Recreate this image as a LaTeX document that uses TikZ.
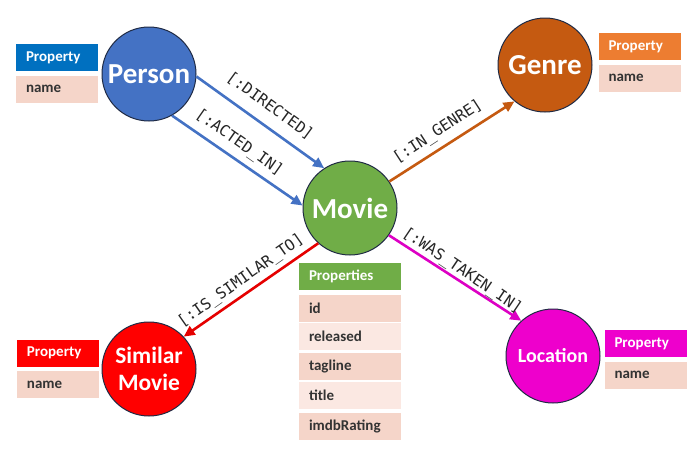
\documentclass[tikz,border=0pt]{standalone}
\usepackage{fontspec}
\setmainfont{Carlito}
\newfontfamily\relfont{DejaVu Sans Mono}
\usetikzlibrary{arrows.meta}
\definecolor{pblue}{HTML}{4472C4}
\definecolor{hblue}{HTML}{0070C0}
\definecolor{mgreen}{HTML}{70AD47}
\definecolor{gorange}{HTML}{C55A11}
\definecolor{horange}{HTML}{ED7D31}
\definecolor{sred}{HTML}{FF0000}
\definecolor{lmag}{HTML}{EE00CC}
\definecolor{amag}{HTML}{DD00C4}
\definecolor{rowdark}{HTML}{F5D5C9}
\definecolor{rowlight}{HTML}{FBE8E2}
\definecolor{rimcol}{HTML}{1F2A44}
\definecolor{txtdark}{HTML}{333333}
\tikzset{
  ent/.style={circle, minimum size=94pt, inner sep=0pt, draw=rimcol, line width=1pt,
    text=white, align=center, font=\bfseries\fontsize{29}{29}\selectfont},
  hdr/.style={rectangle, minimum height=27pt, inner ysep=0pt, inner xsep=10pt,
    text width=62pt, align=left, text=white, font=\bfseries\fontsize{15}{15}\selectfont},
  prow/.style={hdr, fill=rowdark, text=txtdark},
  lrow/.style={hdr, fill=rowlight, text=txtdark},
  rel/.style={font=\relfont\fontsize{15.5}{15.5}\selectfont, text=black!85, inner sep=0pt},
  conn/.style={line width=2.6pt, -{Triangle[length=11pt,width=10pt]}}
}
\begin{document}
\begin{tikzpicture}[x=1pt,y=-1pt]
\useasboundingbox (0,0) rectangle (699,451);
\fill[white] (0,0) rectangle (699,451);

% entities
\node[ent, fill=pblue] (person) at (149,74) {Person};
\node[ent, fill=gorange] (genre) at (545,65) {Genre};
\node[ent, fill=mgreen] (movie) at (350,208) {Movie};
\node[ent, fill=sred, font=\bfseries\fontsize{23.5}{27}\selectfont] (similar) at (149,369) {Similar\\Movie};
\node[ent, fill=lmag, font=\bfseries\fontsize{20}{20}\selectfont] (location) at (553,356) {Location};

% property tables
\node[hdr, fill=hblue] (personh) at (57,57.5) {Property};
\node[prow] (personn) at (57,89) {name};

\node[hdr, fill=horange] (genreh) at (639.5,46.5) {Property};
\node[prow] (genren) at (639.5,78) {name};

\node[hdr, fill=sred] (similarh) at (58,353) {Property};
\node[prow] (similarn) at (58,384.5) {name};

\node[hdr, fill=lmag] (locationh) at (645.5,343.5) {Property};
\node[prow] (locationn) at (645.5,375) {name};

\node[hdr, fill=mgreen, text width=82pt] (movieh) at (350,276) {Properties};
\node[prow, text width=82pt] (mid) at (350,308) {id};
\node[lrow, text width=82pt] (mrel) at (350,336.5) {released};
\node[prow, text width=82pt] (mtag) at (350,366.5) {tagline};
\node[lrow, text width=82pt] (mtitle) at (350,395.5) {title};
\node[prow, text width=82pt] (mimdb) at (350,426) {imdbRating};

% connectors
\draw[conn, pblue] (person.-3) -- (movie.123);
\draw[conn, pblue] (person.-61) -- (movie.177);
\draw[conn, gorange] (movie.34) -- (genre.230);
\draw[conn, sred!90!black] (movie.228) -- (similar.43);
\draw[conn, amag] (movie.-35) -- (location.132);

% relationship labels
\node[rel, rotate=-36] (ldir) at (270,106) {[:DIRECTED]};
\node[rel, rotate=-35] (lact) at (239,143) {[:ACTED\_IN]};
\node[rel, rotate=33] (lgen) at (438,132) {[:IN\_GENRE]};
\node[rel, rotate=35] (lsim) at (241,281) {[:IS\_SIMILAR\_TO]};
\node[rel, rotate=-34] (lloc) at (462,271) {[:WAS\_TAKEN\_IN]};
\end{tikzpicture}
\end{document}
